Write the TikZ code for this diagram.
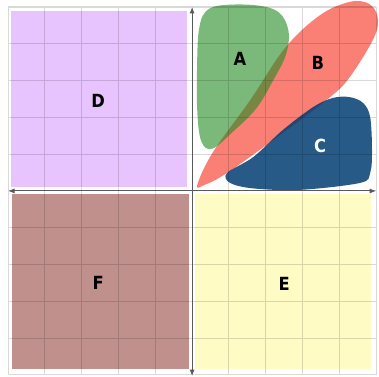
\documentclass[tikz,border=0pt]{standalone}
\usepackage{fontspec}
\newfontfamily\lblfont{DejaVu Sans Condensed}
\usetikzlibrary{arrows.meta}

\definecolor{quadD}{RGB}{232,196,255}
\definecolor{quadE}{RGB}{255,251,196}
\definecolor{quadF}{RGB}{192,144,140}
\definecolor{blobA}{RGB}{34,139,34}
\definecolor{blobB}{RGB}{250,128,118}
\definecolor{blobC}{RGB}{2,61,114}

\begin{document}
\begin{tikzpicture}[
    quad/.style={draw=none},
    lbl/.style={font=\lblfont\bfseries\fontsize{14}{14}\selectfont, inner sep=0pt},
    axis/.style={draw=black!65, line width=0.8pt, {Latex[length=5pt,width=4pt]}-{Latex[length=5pt,width=4pt]}}]
    \useasboundingbox (-5.22,-5.05) rectangle (5.08,5.19);

    % quadrants
    \fill[quad, quadD] (-4.92,0.11) rectangle (-0.14,4.89);
    \fill[quad, quadF] (-4.89,-4.84) rectangle (-0.08,-0.08);
    \fill[quad, quadE] (0.08,-4.84) rectangle (4.86,-0.08);

    % blobs
    \fill[blobB] plot[smooth cycle, tension=0.6] coordinates {
      (0.14,0.16) (0.57,1.06) (1.58,2.47) (2.53,3.89) (3.48,4.78) (4.29,5.14)
      (4.80,5.09) (5.04,4.74) (4.95,4.18) (4.29,3.10) (3.75,2.55) (2.39,1.52)
      (0.95,0.49) (0.35,0.17)};
    \fill[blobA, opacity=0.6] plot[smooth cycle, tension=0.6] coordinates {
      (0.35,4.85) (0.75,5.04) (1.70,5.05) (2.35,4.86) (2.62,4.35) (2.55,3.70)
      (2.20,3.00) (1.75,2.25) (1.10,1.60) (0.55,1.15) (0.25,1.35) (0.14,2.20)
      (0.14,3.60) (0.19,4.40)};
    \fill[blobC, opacity=0.85] plot[smooth cycle, tension=0.55] coordinates {
      (0.95,0.49) (1.66,0.92) (2.47,1.66) (3.29,2.28) (3.83,2.53) (4.29,2.55)
      (4.65,2.39) (4.84,2.01) (4.89,1.11) (4.84,0.49) (4.57,0.22) (2.93,0.03)
      (1.66,0.07) (1.03,0.22)};

    % grid
    \draw[black, opacity=0.15, line width=0.8pt] (-5,-5) grid (5,5);

    % axes
    \coordinate (xl) at (-5,0);
    \coordinate (xr) at (5,0);
    \coordinate (yb) at (0,-5.03);
    \coordinate (yt) at (0,5.0);
    \draw[axis] (xl) -- (xr);
    \draw[axis] (yb) -- (yt);

    % labels
    \node[lbl] (labA) at (1.30,3.59) {A};
    \node[lbl] (labB) at (3.42,3.48) {B};
    \node[lbl, text=white] (labC) at (3.48,1.22) {C};
    \node[lbl] (labD) at (-2.55,2.45) {D};
    \node[lbl] (labE) at (2.50,-2.53) {E};
    \node[lbl] (labF) at (-2.55,-2.50) {F};
\end{tikzpicture}
\end{document}
